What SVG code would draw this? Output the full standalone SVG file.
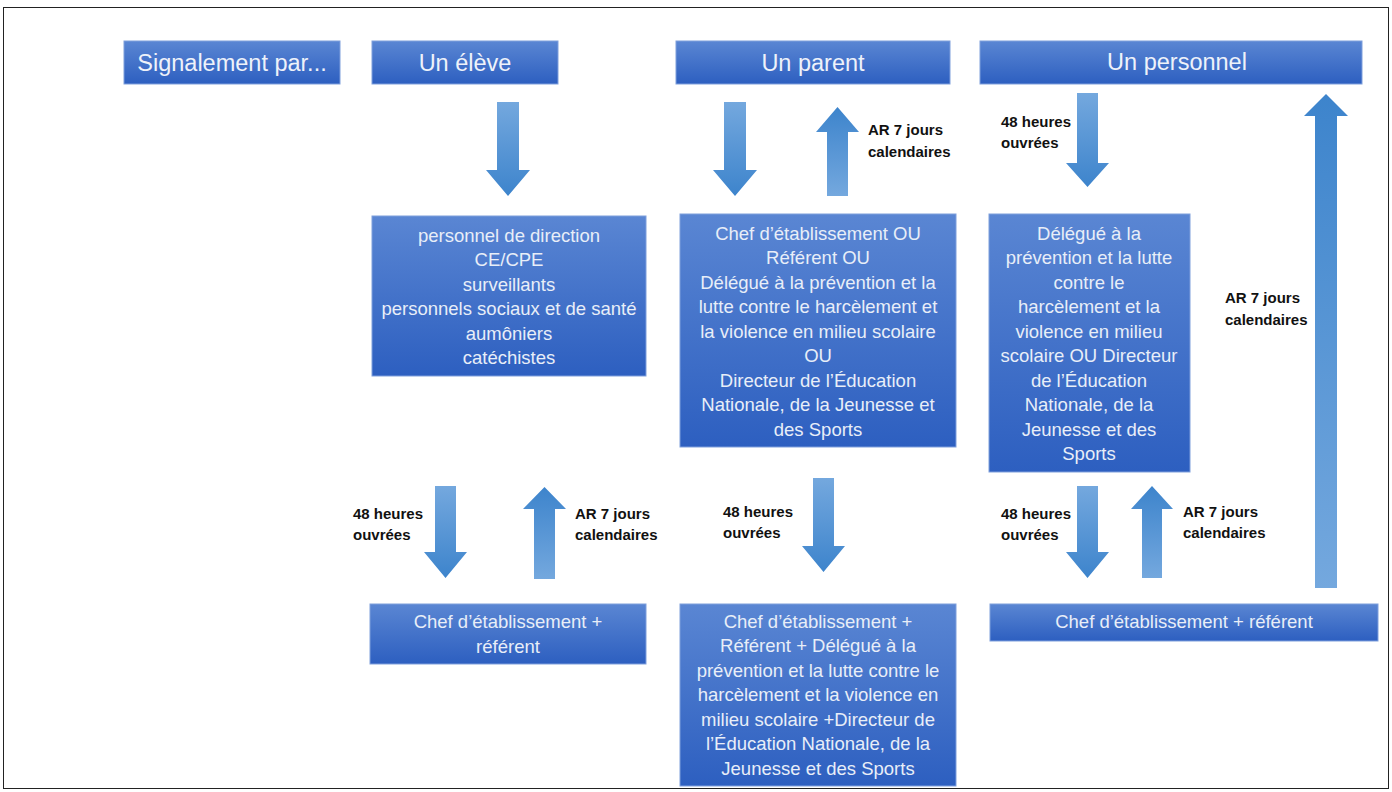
<svg xmlns="http://www.w3.org/2000/svg" width="1392" height="792" viewBox="0 0 1392 792">
<defs>
<linearGradient id="gBox" x1="0" y1="0" x2="0" y2="1">
<stop offset="0" stop-color="#5a86d3"/>
<stop offset="1" stop-color="#2d5fc0"/>
</linearGradient>
<linearGradient id="gDown" x1="0" y1="0" x2="0" y2="1">
<stop offset="0" stop-color="#74a8de"/>
<stop offset="1" stop-color="#3d84cc"/>
</linearGradient>
<linearGradient id="gUp" x1="0" y1="1" x2="0" y2="0">
<stop offset="0" stop-color="#74a8de"/>
<stop offset="1" stop-color="#3d84cc"/>
</linearGradient>
<style>
.box{fill:url(#gBox);stroke:#7f9fdc;stroke-width:1}
.hd{font-family:"Liberation Sans",Arial,sans-serif;font-size:23.5px;fill:#eef2fa;text-anchor:middle}
.bt{font-family:"Liberation Sans",Arial,sans-serif;font-size:18.5px;fill:#e8eef8;text-anchor:middle}
.lb{font-family:"Liberation Sans",Arial,sans-serif;font-size:15px;font-weight:bold;fill:#111}
.ad{fill:url(#gDown)}
.au{fill:url(#gUp)}
</style>
</defs>
<rect x="0" y="0" width="1392" height="792" fill="#ffffff"/>
<rect x="3.5" y="7.5" width="1385" height="781" fill="none" stroke="#222" stroke-width="1"/>

<g id="h-signalement"><rect class="box" x="124" y="41" width="216" height="43"/><text class="hd" x="232" y="71">Signalement par...</text></g>
<g id="h-eleve"><rect class="box" x="372" y="41" width="186" height="43"/><text class="hd" x="465" y="71">Un élève</text></g>
<g id="h-parent"><rect class="box" x="676" y="41" width="274" height="43"/><text class="hd" x="813" y="71">Un parent</text></g>
<g id="h-personnel"><rect class="box" x="980" y="41" width="382" height="43"/><text class="hd" x="1177" y="70">Un personnel</text></g>

<g id="n-eleve-mid"><rect class="box" x="372" y="216" width="274" height="160"/>
<text class="bt" x="509" y="241.5">personnel de direction</text>
<text class="bt" x="509" y="266">CE/CPE</text>
<text class="bt" x="509" y="290.5">surveillants</text>
<text class="bt" x="509" y="315">personnels sociaux et de santé</text>
<text class="bt" x="509" y="339.5">aumôniers</text>
<text class="bt" x="509" y="364">catéchistes</text></g>

<g id="n-parent-mid"><rect class="box" x="680" y="214" width="276" height="233"/>
<text class="bt" x="818" y="239.5">Chef d’établissement OU</text>
<text class="bt" x="818" y="264">Référent OU</text>
<text class="bt" x="818" y="288.5">Délégué à la prévention et la</text>
<text class="bt" x="818" y="313">lutte contre le harcèlement et</text>
<text class="bt" x="818" y="337.5">la violence en milieu scolaire</text>
<text class="bt" x="818" y="362">OU</text>
<text class="bt" x="818" y="386.5">Directeur de l’Éducation</text>
<text class="bt" x="818" y="411">Nationale, de la Jeunesse et</text>
<text class="bt" x="818" y="435.5">des Sports</text></g>

<g id="n-personnel-mid"><rect class="box" x="989" y="214" width="201" height="258"/>
<text class="bt" x="1089" y="239.5">Délégué à la</text>
<text class="bt" x="1089" y="264">prévention et la lutte</text>
<text class="bt" x="1089" y="288.5">contre le</text>
<text class="bt" x="1089" y="313">harcèlement et la</text>
<text class="bt" x="1089" y="337.5">violence en milieu</text>
<text class="bt" x="1089" y="362">scolaire OU Directeur</text>
<text class="bt" x="1089" y="386.5">de l’Éducation</text>
<text class="bt" x="1089" y="411">Nationale, de la</text>
<text class="bt" x="1089" y="435.5">Jeunesse et des</text>
<text class="bt" x="1089" y="460">Sports</text></g>

<g id="n-eleve-bot"><rect class="box" x="370" y="604" width="276" height="60"/>
<text class="bt" x="508" y="627.5">Chef d’établissement +</text>
<text class="bt" x="508" y="652.5">référent</text></g>

<g id="n-parent-bot"><rect class="box" x="680" y="604" width="276" height="182"/>
<text class="bt" x="818" y="627.5">Chef d’établissement +</text>
<text class="bt" x="818" y="652">Référent + Délégué à la</text>
<text class="bt" x="818" y="676.5">prévention et la lutte contre le</text>
<text class="bt" x="818" y="701">harcèlement et la violence en</text>
<text class="bt" x="818" y="725.5">milieu scolaire +Directeur de</text>
<text class="bt" x="818" y="750">l’Éducation Nationale, de la</text>
<text class="bt" x="818" y="774.5">Jeunesse et des Sports</text></g>

<g id="n-personnel-bot"><rect class="box" x="990" y="604" width="388" height="37"/>
<text class="bt" x="1184" y="627.5">Chef d’établissement + référent</text></g>

<g id="connectors">
<polygon class="ad" points="497,102 519,102 519,170 530,170 508,196 486,170 497,170"/>
<polygon class="ad" points="724,102 746,102 746,170 757,170 735,196 713,170 724,170"/>
<polygon class="au" points="827,196 848,196 848,132 859,132 837.5,107 816,132 827,132"/>
<polygon class="ad" points="1077,93 1098,93 1098,163 1109,163 1087.5,187 1066,163 1077,163"/>
<polygon class="au" points="1315,588 1337,588 1337,116 1348,116 1326,94 1304,116 1315,116"/>
<polygon class="ad" points="435,486 456,486 456,552 467,552 445.5,578 424,552 435,552"/>
<polygon class="au" points="534,579 555,579 555,509 566,509 544.5,487 523,509 534,509"/>
<polygon class="ad" points="813,478 834,478 834,546 845,546 823.5,572 802,546 813,546"/>
<polygon class="ad" points="1077,486 1098,486 1098,552 1109,552 1087.5,578 1066,552 1077,552"/>
<polygon class="au" points="1142,578 1162,578 1162,509 1173,509 1152,486 1131,509 1142,509"/>

<text class="lb" x="868" y="135">AR 7 jours</text>
<text class="lb" x="868" y="157">calendaires</text>
<text class="lb" x="1001" y="127">48 heures</text>
<text class="lb" x="1001" y="148">ouvrées</text>
<text class="lb" x="1225" y="303">AR 7 jours</text>
<text class="lb" x="1225" y="325">calendaires</text>
<text class="lb" x="353" y="519">48 heures</text>
<text class="lb" x="353" y="540">ouvrées</text>
<text class="lb" x="575" y="519">AR 7 jours</text>
<text class="lb" x="575" y="540">calendaires</text>
<text class="lb" x="723" y="517">48 heures</text>
<text class="lb" x="723" y="538">ouvrées</text>
<text class="lb" x="1001" y="519">48 heures</text>
<text class="lb" x="1001" y="540">ouvrées</text>
<text class="lb" x="1183" y="517">AR 7 jours</text>
<text class="lb" x="1183" y="538">calendaires</text>
</g>
</svg>
